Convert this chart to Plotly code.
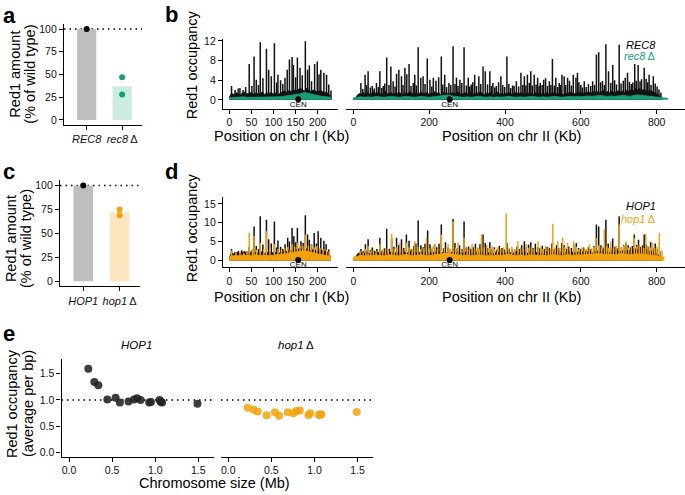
import plotly.graph_objects as go

W, H = 685, 495
FONT = "Liberation Sans, Arial, sans-serif"
BLACK = "#111111"
GREEN = "#17A077"
GREEN_LIGHT = "#CCECE2"
ORANGE = "#F2A20C"
ORANGE_LIGHT = "#FCE6C0"
GRAY = "#BEBEBE"

# ---------------- panel a / c: Red1 western quantification ----------------
rec_labels = ["<i>REC8</i>", "<i>rec8</i>\u2009\u0394"]
rec_bar = [100, 37]
rec_pts_x = [0, 1, 1]
rec_pts_y = [100, 47, 28]

hop_labels = ["<i>HOP1</i>", "<i>hop1</i>\u2009\u0394"]
hop_bar = [100, 72]
hop_pts_x = [0, 1, 1]
hop_pts_y = [100, 75, 69]

wt_level = 100

# ---------------- panel b: REC8 / rec8 ChIP-seq tracks (kb, occupancy) ----------------
BIN_BLACK = 5    # kb per background bin, wild-type tracks
BIN_MUT = 10     # kb per background bin, mutant tracks

b1_black_bg = [0.6, 1.3, 1.1, 1.5, 1.2, 1.0, 1.4, 1.6, 1.2, 1.3,
               1.5, 1.1, 1.4, 1.2, 1.3, 1.6, 1.1, 1.4, 1.3, 1.5,
               1.2, 1.4, 1.1, 1.3, 1.6, 1.8, 1.5, 1.9, 1.7, 2.1,
               1.8, 2.0, 2.3, 2.1, 1.8, 2.4, 1.9, 1.7, 2.0, 1.8,
               1.6, 1.9, 1.7, 1.5, 1.6, 1.2, 0.6]
b1_black_pk_pos = [5, 13, 20, 24, 31, 37, 45, 51, 56, 61, 66, 70, 76, 84, 89, 95, 102, 107, 110,
                   116, 121, 126, 131, 136, 142, 145, 150, 154, 160, 165, 172, 177, 181, 186,
                   193, 199, 203, 207, 214, 220, 225, 230]
b1_black_pk_h = [2.8, 2.0, 2.3, 2.4, 2.0, 2.6, 7.3, 2.8, 8.8, 4.1, 3.0, 11.7, 4.4, 10.4, 6.1, 4.8,
                 11.5, 3.5, 5.1, 4.0, 3.2, 4.5, 6.1, 8.2, 8.7, 7.1, 4.6, 8.6, 6.5, 5.0, 11.9, 6.1,
                 7.0, 3.8, 7.3, 7.8, 5.2, 6.1, 5.5, 5.1, 3.1, 1.9]
b1_green_bg = [0.4, 0.5, 0.5, 0.6, 0.5, 0.5, 0.6, 0.5, 0.6, 0.5, 0.6, 0.6,
               0.7, 0.8, 0.9, 1.0, 1.2, 1.5, 1.3, 1.0, 0.8, 0.7, 0.6, 0.5]

b2_black_bg = [0.2, 0.3, 0.9, 1.3, 1.1, 1.5, 1.2, 1.6, 1.3, 1.1, 1.4, 1.7, 1.2, 1.5, 1.3, 1.0, 1.4, 1.8, 1.2, 1.3,
               1.5, 1.1, 1.4, 1.2, 1.6, 1.3, 1.0, 1.5, 1.2, 1.4, 1.7, 1.3, 1.1, 1.5, 1.2, 1.4, 1.6, 1.2, 1.3, 1.5,
               1.1, 1.4, 1.2, 1.7, 1.3, 1.5, 1.0, 1.3, 1.6, 1.2, 1.4, 1.1, 1.5, 1.3, 1.2, 1.6, 1.4, 1.1, 1.3, 1.5,
               1.2, 1.4, 1.6, 1.1, 1.3, 1.5, 1.2, 1.7, 1.3, 1.0, 1.4, 1.2, 1.5, 1.3, 1.1, 1.4, 1.6, 1.2, 1.3, 1.1,
               1.4, 1.2, 1.5, 1.3, 1.0, 1.4, 1.6, 1.2, 1.3, 1.5, 1.1, 1.4, 1.2, 1.6, 1.3, 1.1, 1.5, 1.2, 1.4, 1.3,
               1.0, 1.3, 1.5, 1.2, 1.4, 1.1, 1.6, 1.3, 1.2, 1.5, 1.3, 1.0, 1.4, 1.2, 1.6, 1.3, 1.5, 1.2, 1.4, 1.6,
               1.3, 1.5, 1.2, 1.7, 1.4, 1.6, 1.3, 1.8, 1.5, 1.7, 1.4, 1.6, 1.9, 1.5, 1.7, 1.4, 1.8, 1.6, 1.5, 1.7,
               1.9, 1.6, 1.8, 1.5, 2.0, 1.7, 1.9, 2.2, 1.8, 2.4, 2.0, 2.3, 1.9, 2.1, 1.8, 2.0, 1.7, 1.9, 1.6, 1.5,
               1.3, 1.0, 0.6, 0.2]
b2_black_pk_pos = [20, 25, 31, 35, 39, 45, 50, 55, 61, 66, 70, 75, 79, 83, 88, 94, 99, 105, 110, 114,
                   120, 127, 131, 136, 141, 147, 152, 158, 162, 166, 171, 178, 184, 189, 195, 202, 207,
                   211, 218, 225, 232, 236, 241, 246, 252, 257, 263, 268, 272, 276, 281, 286, 292, 298,
                   303, 307, 311, 315, 320, 325, 331, 336, 342, 348, 354, 360, 364, 368, 373, 377, 383,
                   389, 394, 399, 405, 410, 415, 420, 424, 430, 436, 442, 447, 451, 455, 459, 464, 468,
                   472, 477, 482, 486, 490, 493, 498, 502, 507, 512, 517, 521, 525, 530, 534, 539, 543,
                   547, 550, 556, 560, 565, 570, 575, 580, 587, 591, 595, 600, 604, 609, 614, 620, 626,
                   631, 636, 641, 647, 652, 657, 662, 666, 673, 679, 684, 689, 694, 701, 706, 712, 717,
                   723, 728, 733, 737, 742, 746, 751, 756, 760, 767, 772, 776, 780, 785, 791, 796, 801,
                   806, 811]
b2_black_pk_h = [3.4, 2.2, 5.1, 3.0, 5.8, 2.5, 2.8, 2.3, 3.4, 2.6, 5.8, 2.4, 2.8, 3.3, 8.6, 3.0, 6.8,
                 3.8, 2.7, 5.3, 6.1, 4.8, 3.0, 6.5, 5.2, 7.3, 2.8, 3.4, 5.1, 2.9, 10.7, 4.5, 4.8, 3.2,
                 8.4, 4.1, 2.7, 4.5, 3.9, 4.6, 8.8, 3.1, 5.1, 2.6, 3.4, 3.0, 10.9, 3.2, 4.5, 2.8, 4.1,
                 3.4, 10.7, 2.9, 4.5, 2.7, 3.1, 3.6, 5.1, 2.8, 4.8, 3.2, 6.8, 5.8, 3.1, 5.8, 2.8, 3.4,
                 2.5, 2.8, 3.6, 4.8, 3.0, 2.6, 8.8, 3.2, 2.4, 2.9, 2.8, 3.8, 2.7, 5.5, 3.0, 4.8, 2.9,
                 5.1, 3.4, 5.8, 2.9, 5.1, 3.1, 4.5, 2.8, 3.4, 3.0, 4.1, 4.4, 2.8, 3.8, 3.0, 8.3, 2.9,
                 4.5, 2.6, 3.4, 3.0, 5.1, 4.8, 3.0, 4.5, 3.9, 2.9, 5.1, 4.5, 5.5, 3.6, 3.0, 2.5, 3.8,
                 2.6, 3.2, 2.8, 3.8, 3.0, 9.2, 9.7, 3.6, 3.9, 3.0, 11.3, 5.8, 3.4, 7.1, 4.0, 3.1, 11.2,
                 3.3, 3.9, 4.5, 5.5, 3.7, 3.2, 3.5, 7.3, 3.9, 7.1, 3.8, 4.2, 6.5, 4.3, 3.6, 5.1, 3.0,
                 4.8, 3.3, 2.7, 2.1, 1.5]
b2_green_bg = [0.4, 0.5, 0.6, 0.5, 0.6, 0.5, 0.7, 0.6, 0.5, 0.6,
               0.7, 0.6, 0.5, 0.6, 0.7, 0.6, 0.5, 0.6, 0.7, 0.6,
               0.5, 0.6, 0.7, 0.8, 0.9, 1.0, 0.8, 0.7, 0.6, 0.5,
               0.6, 0.5, 0.6, 0.7, 0.6, 0.5, 0.6, 0.5, 0.6, 0.5,
               0.6, 0.7, 0.6, 0.5, 0.6, 0.5, 0.6, 0.7, 0.6, 0.5,
               0.6, 0.5, 0.6, 0.7, 0.6, 0.5, 0.6, 0.7, 0.6, 0.7,
               0.6, 0.7, 0.8, 0.7, 0.8, 0.9, 0.8, 0.7, 0.8, 0.7,
               0.8, 0.9, 0.8, 0.7, 0.9, 1.0, 0.9, 0.8, 0.7, 0.6,
               0.5, 0.4, 0.3, 0.3]

# ---------------- panel d: HOP1 / hop1 ChIP-seq tracks ----------------
d1_black_bg = [0.8, 2.0, 1.7, 2.2, 1.9, 1.6, 2.1, 2.4, 1.8, 2.0,
               2.3, 1.7, 2.1, 1.9, 2.0, 2.4, 1.8, 2.1, 2.0, 2.3,
               1.9, 2.1, 1.8, 2.0, 2.4, 2.6, 2.3, 2.8, 2.5, 3.0,
               2.7, 2.9, 3.2, 2.9, 2.6, 3.1, 2.8, 2.5, 2.9, 2.7,
               2.4, 2.8, 2.5, 2.3, 2.4, 1.9, 0.8]
d1_black_pk_pos = [5, 13, 20, 24, 28, 35, 40, 45, 51, 56, 61, 66, 70, 76, 84, 89, 95, 102, 107, 110,
                   116, 121, 126, 132, 136, 142, 146, 150, 154, 162, 167, 172, 177, 181, 186, 192,
                   197, 201, 207, 214, 219, 225]
d1_black_pk_h = [3.0, 2.2, 2.5, 2.0, 2.7, 2.3, 2.4, 3.5, 2.6, 9.0, 3.8, 3.0, 11.7, 4.2, 10.8, 5.6,
                 4.5, 10.3, 3.4, 5.3, 3.6, 3.0, 4.3, 6.0, 5.0, 8.6, 6.4, 4.8, 8.6, 5.1, 4.6, 12.0,
                 6.9, 5.5, 4.2, 7.3, 4.5, 7.7, 6.0, 5.2, 4.3, 2.9]
d1_orange_bg = [1.0, 1.3, 1.2, 1.4, 1.3, 1.2, 1.5, 1.3, 1.4, 1.2, 1.4, 1.5,
                1.6, 1.8, 2.0, 2.2, 2.4, 2.6, 2.3, 1.9, 1.7, 1.5, 1.3, 1.0]
d1_orange_pk_pos = [5, 15, 24, 33, 40, 45, 52, 56, 62, 70, 78, 84, 92, 102, 110, 118, 125, 132,
                    138, 142, 148, 154, 160, 166, 172, 179, 185, 192, 198, 205, 212, 220, 226]
d1_orange_pk_h = [2.6, 2.2, 2.4, 2.0, 2.5, 7.3, 3.0, 6.5, 2.8, 4.7, 3.0, 7.7, 3.3, 4.3, 3.0, 2.8,
                  3.2, 3.5, 2.9, 4.3, 3.6, 4.7, 4.0, 3.8, 6.8, 3.9, 4.2, 3.5, 3.8, 3.3, 3.0, 2.9, 2.4]

d2_black_bg = [0.3, 0.5, 1.6, 2.0, 1.8, 2.3, 1.9, 2.4, 2.0, 1.7, 2.1, 2.5, 1.9, 2.2, 2.0, 1.6, 2.1, 2.6, 1.9, 2.0,
               2.2, 1.8, 2.1, 1.9, 2.4, 2.0, 1.7, 2.3, 1.9, 2.1, 2.5, 2.0, 1.8, 2.2, 1.9, 2.1, 2.4, 1.9, 2.0, 2.2,
               1.8, 2.1, 1.9, 2.5, 2.0, 2.3, 1.7, 2.0, 2.4, 1.9, 2.2, 1.8, 2.3, 2.0, 1.9, 2.4, 2.1, 1.8, 2.0, 2.2,
               1.9, 2.1, 2.4, 1.8, 2.0, 2.3, 1.9, 2.5, 2.0, 1.7, 2.1, 1.9, 2.3, 2.0, 1.8, 2.1, 2.4, 1.9, 2.0, 1.8,
               2.1, 1.9, 2.3, 2.0, 1.7, 2.1, 2.4, 1.9, 2.0, 2.3, 1.8, 2.1, 1.9, 2.4, 2.0, 1.8, 2.3, 1.9, 2.1, 2.0,
               1.7, 2.0, 2.3, 1.9, 2.1, 1.8, 2.4, 2.0, 1.9, 2.3, 2.0, 1.7, 2.1, 1.9, 2.4, 2.0, 2.3, 1.9, 2.1, 2.4,
               2.0, 2.3, 1.9, 2.5, 2.1, 2.4, 2.0, 2.6, 2.2, 2.5, 2.1, 2.4, 2.7, 2.2, 2.5, 2.1, 2.6, 2.4, 2.2, 2.5,
               2.7, 2.3, 2.6, 2.2, 2.8, 2.5, 2.7, 3.0, 2.6, 3.1, 2.8, 3.0, 2.6, 2.9, 2.5, 2.8, 2.4, 2.6, 2.3, 2.1,
               1.9, 1.5, 0.8, 0.3]
d2_black_pk_pos = [20, 27, 32, 39, 45, 50, 57, 62, 70, 76, 82, 88, 95, 101, 107, 114, 120, 127, 133,
                   140, 147, 153, 160, 165, 171, 178, 184, 189, 196, 202, 208, 214, 220, 226, 232,
                   238, 243, 250, 256, 263, 268, 274, 280, 286, 292, 298, 304, 310, 316, 322, 328,
                   334, 342, 348, 354, 360, 366, 372, 378, 385, 392, 398, 405, 411, 418, 425, 432,
                   438, 444, 451, 456, 462, 468, 474, 480, 486, 492, 498, 504, 511, 517, 524, 530,
                   536, 542, 550, 556, 562, 568, 575, 581, 588, 594, 600, 607, 614, 620, 627, 634,
                   641, 647, 653, 659, 666, 672, 678, 684, 690, 695, 701, 707, 713, 719, 725, 731,
                   736, 741, 747, 752, 758, 763, 767, 772, 778, 784, 790, 796, 802, 808]
d2_black_pk_h = [3.0, 2.4, 4.3, 5.6, 2.7, 3.4, 2.5, 3.0, 6.0, 2.6, 3.2, 8.4, 3.1, 6.0, 3.6, 6.0, 4.1,
                 5.6, 3.3, 6.9, 5.2, 3.0, 3.9, 4.5, 10.6, 4.0, 3.5, 4.4, 7.9, 4.3, 3.0, 4.2, 3.5, 4.4,
                 9.5, 3.2, 4.8, 3.4, 3.0, 11.0, 4.6, 3.2, 4.0, 3.0, 10.3, 3.4, 3.7, 3.1, 3.5, 4.4, 3.2,
                 4.3, 6.9, 4.6, 3.3, 4.8, 3.0, 3.5, 2.8, 3.8, 3.3, 2.9, 4.6, 3.1, 3.0, 2.7, 3.6, 3.0,
                 4.0, 5.1, 3.4, 4.2, 4.8, 3.3, 4.4, 3.5, 3.2, 3.9, 3.0, 3.6, 3.3, 4.5, 3.0, 4.0, 3.2,
                 4.6, 4.0, 3.1, 3.7, 3.3, 4.2, 4.6, 3.3, 3.0, 3.4, 2.8, 3.5, 3.0, 3.8, 9.5, 9.0, 4.0,
                 3.4, 10.8, 4.5, 3.4, 5.8, 3.6, 3.3, 11.7, 3.4, 4.0, 4.6, 4.0, 3.5, 3.8, 6.9, 4.1,
                 5.5, 3.6, 4.0, 6.9, 4.2, 3.6, 4.8, 3.2, 4.5, 3.0, 2.4]
d2_orange_bg = [0.9, 1.1, 1.3, 1.2, 1.4, 1.2, 1.5, 1.3, 1.2, 1.4,
                1.5, 1.3, 1.2, 1.4, 1.6, 1.3, 1.2, 1.4, 1.5, 1.3,
                1.2, 1.4, 1.6, 1.7, 1.8, 2.0, 1.7, 1.5, 1.4, 1.3,
                1.4, 1.2, 1.3, 1.5, 1.4, 1.2, 1.3, 1.2, 1.4, 1.3,
                1.5, 1.6, 1.4, 1.3, 1.4, 1.2, 1.3, 1.5, 1.4, 1.3,
                1.4, 1.2, 1.4, 1.5, 1.3, 1.2, 1.4, 1.5, 1.3, 1.5,
                1.4, 1.5, 1.6, 1.5, 1.7, 1.8, 1.6, 1.5, 1.6, 1.5,
                1.7, 1.8, 1.6, 1.5, 1.7, 1.8, 1.7, 1.6, 1.4, 1.3,
                1.1, 1.0, 0.9]
d2_orange_pk_pos = [18, 26, 33, 39, 46, 53, 60, 70, 78, 85, 92, 101, 108, 115, 123, 130, 140, 147,
                    155, 162, 170, 178, 186, 193, 200, 208, 215, 222, 232, 240, 250, 256, 263, 270,
                    276, 284, 292, 300, 306, 313, 320, 327, 332, 338, 345, 352, 360, 366, 372, 380,
                    388, 396, 403, 410, 418, 426, 434, 441, 448, 456, 463, 470, 477, 487, 494, 500,
                    507, 514, 520, 526, 532, 539, 545, 552, 558, 565, 572, 581, 588, 595, 602, 609,
                    615, 622, 629, 634, 640, 647, 655, 662, 668, 673, 679, 686, 693, 701, 707, 713,
                    719, 726, 733, 741, 747, 754, 760, 766, 771, 777, 783, 789, 795, 801, 807, 814]
d2_orange_pk_h = [2.5, 2.2, 3.0, 3.8, 2.4, 2.8, 2.5, 4.3, 2.7, 3.2, 2.9, 7.0, 3.1, 3.5, 4.7, 3.0,
                  4.7, 3.4, 3.0, 5.1, 3.6, 3.0, 3.3, 6.0, 3.2, 3.6, 4.3, 3.0, 6.9, 3.3, 4.3, 3.1,
                  10.3, 3.4, 4.7, 3.0, 6.0, 3.3, 3.0, 4.3, 3.1, 3.5, 3.0, 6.9, 3.5, 4.1, 3.3, 3.8,
                  3.0, 3.4, 3.1, 3.5, 12.5, 3.2, 3.6, 3.0, 5.1, 3.4, 3.0, 4.3, 3.3, 3.6, 3.1, 5.1,
                  3.5, 3.0, 3.8, 3.4, 3.1, 9.7, 3.5, 5.1, 3.3, 6.0, 3.6, 4.7, 3.2, 5.1, 3.6, 3.0,
                  3.4, 3.3, 3.0, 4.3, 3.2, 3.6, 6.0, 4.0, 3.5, 8.2, 3.8, 3.3, 5.1, 3.4, 3.9, 9.5,
                  3.5, 3.8, 5.1, 3.4, 3.6, 6.0, 3.7, 4.2, 3.6, 3.3, 7.0, 3.8, 3.4, 4.7, 3.3, 3.6,
                  7.3, 2.6]

cen_kb = [156, 254]   # chr I, chr II centromeres

# ---------------- panel e: average occupancy vs chromosome size ----------------
chrom_size_mb = [0.224, 0.294, 0.34, 0.445, 0.54, 0.59, 0.69, 0.754, 0.79, 0.83,
                 0.93, 0.95, 1.05, 1.065, 1.08, 1.49]
occ_hop1 = [1.59, 1.34, 1.28, 1.01, 1.04, 0.95, 0.97, 1.01, 1.03, 1.00,
            0.95, 0.96, 1.00, 0.96, 0.95, 0.93]
occ_hop1d = [0.85, 0.815, 0.78, 0.71, 0.765, 0.70, 0.765, 0.75, 0.79, 0.80,
             0.715, 0.75, 0.715, 0.72, 0.73, 0.77]
ref_level = 1.0


def bins(values, step):
    return [i * step for i in range(len(values))]


def spikes(pos, h):
    xs, ys = [], []
    for p, v in zip(pos, h):
        xs += [p, p, None]
        ys += [0, v, None]
    return xs, ys


fig = go.Figure()


def add_fill(vals, step, color, xa, ya):
    fig.add_trace(go.Scatter(x=bins(vals, step), y=vals, mode="lines", fill="tozeroy",
                             fillcolor=color, line=dict(color=color, width=0.8),
                             xaxis=xa, yaxis=ya, hoverinfo="skip"))


def add_spikes(pos, h, color, xa, ya, width=1.5):
    xs, ys = spikes(pos, h)
    fig.add_trace(go.Scatter(x=xs, y=ys, mode="lines", line=dict(color=color, width=width),
                             xaxis=xa, yaxis=ya, hoverinfo="skip"))


def add_cen(kb, xa, ya, label_y):
    fig.add_trace(go.Scatter(x=[kb], y=[0.1], mode="markers", marker=dict(color="black", size=6),
                             xaxis=xa, yaxis=ya, hoverinfo="skip"))
    fig.add_trace(go.Scatter(x=[kb], y=[label_y], mode="text", text=["CEN"],
                             textfont=dict(family=FONT, size=8, color="black"),
                             xaxis=xa, yaxis=ya, hoverinfo="skip"))


# panel a
fig.add_trace(go.Bar(x=[0, 1], y=rec_bar, width=0.54, marker=dict(color=[GRAY, GREEN_LIGHT], line_width=0),
                     xaxis="x", yaxis="y"))
fig.add_trace(go.Scatter(x=rec_pts_x, y=rec_pts_y, mode="markers",
                         marker=dict(size=6, color=["black", GREEN, GREEN]), xaxis="x", yaxis="y"))

# panel c
fig.add_trace(go.Bar(x=[0, 1], y=hop_bar, width=0.54, marker=dict(color=[GRAY, ORANGE_LIGHT], line_width=0),
                     xaxis="x4", yaxis="y4"))
fig.add_trace(go.Scatter(x=hop_pts_x, y=hop_pts_y, mode="markers",
                         marker=dict(size=6, color=["black", ORANGE, ORANGE]), xaxis="x4", yaxis="y4"))

# panel b
add_fill(b1_black_bg, BIN_BLACK, BLACK, "x2", "y2")
add_spikes(b1_black_pk_pos, b1_black_pk_h, BLACK, "x2", "y2")
add_fill(b1_green_bg, BIN_MUT, GREEN, "x2", "y2")
add_cen(cen_kb[0], "x2", "y2", -1.0)

add_fill(b2_black_bg, BIN_BLACK, BLACK, "x3", "y3")
add_spikes(b2_black_pk_pos, b2_black_pk_h, BLACK, "x3", "y3")
add_fill(b2_green_bg, BIN_MUT, GREEN, "x3", "y3")
add_cen(cen_kb[1], "x3", "y3", -1.0)

# panel d
add_fill(d1_black_bg, BIN_BLACK, BLACK, "x5", "y5")
add_spikes(d1_black_pk_pos, d1_black_pk_h, BLACK, "x5", "y5")
add_fill(d1_orange_bg, BIN_MUT, ORANGE, "x5", "y5")
add_spikes(d1_orange_pk_pos, d1_orange_pk_h, ORANGE, "x5", "y5")
add_cen(cen_kb[0], "x5", "y5", -1.2)

add_fill(d2_black_bg, BIN_BLACK, BLACK, "x6", "y6")
add_spikes(d2_black_pk_pos, d2_black_pk_h, BLACK, "x6", "y6")
add_fill(d2_orange_bg, BIN_MUT, ORANGE, "x6", "y6")
add_spikes(d2_orange_pk_pos, d2_orange_pk_h, ORANGE, "x6", "y6")
add_cen(cen_kb[1], "x6", "y6", -1.2)

# panel e
fig.add_trace(go.Scatter(x=chrom_size_mb, y=occ_hop1, mode="markers",
                         marker=dict(size=8, color="#222222", opacity=0.88),
                         xaxis="x7", yaxis="y7"))
fig.add_trace(go.Scatter(x=chrom_size_mb, y=occ_hop1d, mode="markers",
                         marker=dict(size=8, color=ORANGE, opacity=0.85),
                         xaxis="x8", yaxis="y8"))

common = dict(showline=True, linecolor="black", linewidth=1.3, ticks="outside", ticklen=4,
              tickwidth=1.2, tickcolor="black", showgrid=False, zeroline=False,
              tickfont=dict(family=FONT, size=10.5, color="#111111"), fixedrange=True)


def xax(px0, px1, rng, anchor, **kw):
    d = dict(common, domain=[px0 / W, px1 / W], range=rng, anchor=anchor)
    d.update(kw)
    return d


def yax(top, bot, rng, anchor, **kw):
    d = dict(common, domain=[1 - bot / H, 1 - top / H], range=rng, anchor=anchor)
    d.update(kw)
    return d


hidden = dict(showline=False, showticklabels=False, ticks="")
chr1_ticks = dict(tickvals=[0, 50, 100, 150, 200])
chr2_ticks = dict(tickvals=[0, 200, 400, 600, 800])
mb_ticks = dict(tickvals=[0, 0.5, 1, 1.5], ticktext=["0.0", "0.5", "1.0", "1.5"])
cat_font = dict(family=FONT, size=11, color="#111111")

fig.update_layout(
    width=W, height=H, margin=dict(l=0, r=0, t=0, b=0),
    paper_bgcolor="white", plot_bgcolor="white", showlegend=False, barmode="overlay",
    xaxis=xax(64, 142, [-0.64, 1.56], "y", tickvals=[0, 1], ticktext=rec_labels, tickfont=cat_font),
    yaxis=yax(20, 122, [-5.1, 105.8], "x", tickvals=[0, 25, 50, 75, 100]),
    xaxis2=xax(223, 338, [-14.3, 245.9], "y2", **chr1_ticks),
    yaxis2=yax(35, 106, [-1.81, 12.46], "x2", tickvals=[0, 4, 8, 12]),
    xaxis3=xax(346, 685, [-19.3, 874.6], "y3", **chr2_ticks),
    yaxis3=yax(35, 106, [-1.81, 12.46], "x3", **hidden),
    xaxis4=xax(60, 140, [-0.64, 1.56], "y4", tickvals=[0, 1], ticktext=hop_labels, tickfont=cat_font),
    yaxis4=yax(178, 285.7, [-5.15, 105.9], "x4", tickvals=[0, 25, 50, 75, 100]),
    xaxis5=xax(223, 338, [-14.3, 245.9], "y5", **chr1_ticks),
    yaxis5=yax(195, 266, [-1.70, 16.92], "x5", tickvals=[0, 5, 10, 15]),
    xaxis6=xax(346, 685, [-19.3, 874.6], "y6", **chr2_ticks),
    yaxis6=yax(195, 266, [-1.70, 16.92], "x6", **hidden),
    xaxis7=xax(61.5, 213.5, [-0.087, 1.676], "y7", **mb_ticks),
    yaxis7=yax(359, 458.3, [-0.077, 1.783], "x7", **mb_ticks),
    xaxis8=xax(221, 373, [-0.085, 1.679], "y8", **mb_ticks),
    yaxis8=yax(359, 458.3, [-0.077, 1.783], "x8", **hidden),
)

dot = dict(color="black", width=1.4, dash="1.5px,4px")
for xr, yr, yv in [("x", "y", wt_level), ("x4", "y4", wt_level),
                   ("x7", "y7", ref_level), ("x8", "y8", ref_level)]:
    fig.add_shape(type="line", xref=xr + " domain", yref=yr, x0=0, x1=1, y0=yv, y1=yv,
                  line=dot, layer="below")


def note(text, px, py, size=14.5, angle=0, color="black", xanchor="center", bold=False):
    if bold:
        text = "<b>" + text + "</b>"
    fig.add_annotation(text=text, x=px / W, y=1 - py / H, xref="paper", yref="paper",
                       showarrow=False, textangle=angle, xanchor=xanchor, yanchor="middle",
                       font=dict(family=FONT, size=size, color=color))


# panel letters
for letter, px, py in [("a", 9, 12), ("b", 171, 11), ("c", 9, 169.5), ("d", 171, 169.5), ("e", 9, 334)]:
    note(letter, px, py, size=22, bold=True)

# axis titles
note("Red1 amount", 15, 71.5, angle=-90)
note("(% of wild type)", 30, 71.5, angle=-90)
note("Red1 amount", 11, 238, angle=-90)
note("(% of wild type)", 26, 238, angle=-90)
note("Red1 occupancy", 192, 62, angle=-90)
note("Red1 occupancy", 192, 227, angle=-90)
note("Red1 occupancy", 12, 405, angle=-90)
note("(average per bp)", 28, 405, angle=-90)
note("Position on chr I (Kb)", 281, 134)
note("Position on chr II (Kb)", 511, 134)
note("Position on chr I (Kb)", 281, 297)
note("Position on chr II (Kb)", 511, 297)
note("Chromosome size (Mb)", 214, 485)

# legends and facet strips
note("<i>REC8</i>", 658, 42, size=11, xanchor="right")
note("<i>rec8</i>\u2009\u0394", 658, 53, size=11, color=GREEN, xanchor="right")
note("<i>HOP1</i>", 658, 204.5, size=11, xanchor="right")
note("<i>hop1</i>\u2009\u0394", 658, 217.5, size=11, color=ORANGE, xanchor="right")
note("<i>HOP1</i>", 136, 345, size=11.5)
note("<i>hop1</i>\u2009\u0394", 296, 345, size=11.5)

# page body has a default 8px margin; remove it so the figure sits at the window corner
fig.write_html("out.html", config={"displayModeBar": False},
               post_script="document.body.style.margin='0';")
